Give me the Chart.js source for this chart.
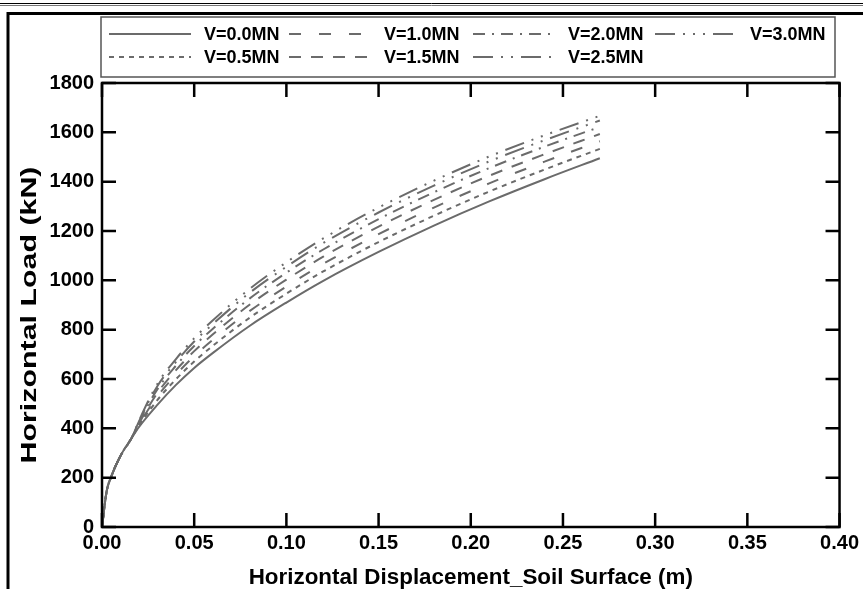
<!DOCTYPE html>
<html>
<head>
<meta charset="utf-8">
<script src="https://cdn.jsdelivr.net/npm/chart.js@4.4.1/dist/chart.umd.min.js"></script>
<style>
  html, body { margin: 0; padding: 0; background: #fff; }
  #wrap { width: 863px; height: 589px; position: relative; }
</style>
</head>
<body>
<div id="wrap"><canvas id="loadChart"></canvas></div>
<script>
// horizontal displacement at soil surface (m)
const disp = [0, 0.0025, 0.005, 0.01, 0.016, 0.02, 0.03, 0.04, 0.05, 0.06, 0.08, 0.10, 0.12, 0.15, 0.18, 0.21, 0.24, 0.27];

// horizontal load (kN) for each vertical load
const v00 = [0, 144, 204, 288, 360, 405, 495, 575, 645, 705, 815, 910, 998, 1115, 1222, 1320, 1410, 1495];
const v05 = [0, 144, 204, 288, 360, 411, 514, 598, 671, 734, 848, 946, 1036, 1155, 1262, 1360, 1449, 1533];
const v10 = [0, 144, 204, 288, 360, 415, 529, 617, 693, 758, 875, 975, 1067, 1187, 1295, 1393, 1481, 1564];
const v15 = [0, 144, 204, 288, 360, 419, 543, 635, 713, 780, 901, 1003, 1096, 1218, 1326, 1424, 1511, 1593];
const v20 = [0, 144, 204, 288, 360, 424, 558, 653, 734, 803, 926, 1031, 1125, 1248, 1357, 1455, 1542, 1622];
const v25 = [0, 144, 204, 288, 360, 427, 571, 668, 752, 822, 949, 1055, 1151, 1275, 1384, 1482, 1568, 1648];
const v30 = [0, 144, 204, 288, 360, 430, 580, 680, 765, 837, 965, 1073, 1170, 1295, 1404, 1502, 1588, 1667];

const seriesLabels = ['V=0.0MN', 'V=0.5MN', 'V=1.0MN', 'V=1.5MN', 'V=2.0MN', 'V=2.5MN', 'V=3.0MN'];
const seriesValues = [v00, v05, v10, v15, v20, v25, v30];
const dashes = [[], [5, 5], [12, 18], [12, 10], [12, 7, 2, 7], [20, 8, 2, 8, 2, 8], [20, 8, 2, 8, 2, 8, 2, 8]];

const xTicks = [0, 0.05, 0.1, 0.15, 0.2, 0.25, 0.3, 0.35, 0.4];
const yTicks = [0, 200, 400, 600, 800, 1000, 1200, 1400, 1600, 1800];

const lineColor = '#6b6b6b';
const FONT = '"Liberation Sans", Arial, sans-serif';

const datasets = seriesValues.map((vals, i) => ({
    label: seriesLabels[i],
    data: vals.map((v, j) => ({ x: disp[j], y: v })),
    borderColor: lineColor,
    borderWidth: 2,
    borderDash: dashes[i],
    pointRadius: 0,
    cubicInterpolationMode: 'monotone',
    fill: false
}));

// frame, inward ticks on all four sides, legend box, y title
const framePlugin = {
    id: 'framePlugin',
    beforeDraw(chart) {
        const ctx = chart.ctx;
        ctx.save();
        ctx.strokeStyle = '#000';
        ctx.lineWidth = 1;
        ctx.beginPath(); ctx.moveTo(0, 3.5); ctx.lineTo(863, 3.5); ctx.stroke();
        ctx.strokeStyle = '#777';
        ctx.beginPath(); ctx.moveTo(0, 5.5); ctx.lineTo(863, 5.5); ctx.stroke();
        ctx.strokeStyle = '#000';
        ctx.lineWidth = 3;
        ctx.beginPath(); ctx.moveTo(8, 589); ctx.lineTo(8, 13.5); ctx.lineTo(863, 13.5); ctx.stroke();

        // y axis title, stretched along its length like the original
        const a = chart.chartArea;
        ctx.translate(30, (a.top + a.bottom) / 2 + 10);
        ctx.rotate(-Math.PI / 2);
        ctx.scale(1.38, 1);
        ctx.font = 'bold 22px ' + FONT;
        ctx.fillStyle = '#000';
        ctx.textAlign = 'center';
        ctx.textBaseline = 'middle';
        ctx.fillText('Horizontal Load (kN)', 0, 0);
        ctx.restore();
    },
    afterDatasetsDraw(chart) {
        const ctx = chart.ctx;
        const a = chart.chartArea;
        const xs = chart.scales.x, ys = chart.scales.y;
        ctx.save();
        ctx.strokeStyle = '#000';
        ctx.lineWidth = 2.5;
        ctx.strokeRect(a.left, a.top, a.right - a.left, a.bottom - a.top);
        const tl = 14;
        ctx.beginPath();
        xTicks.forEach(t => {
            const px = xs.getPixelForValue(t);
            ctx.moveTo(px, a.bottom); ctx.lineTo(px, a.bottom - tl);
            ctx.moveTo(px, a.top); ctx.lineTo(px, a.top + tl);
        });
        yTicks.forEach(t => {
            const py = ys.getPixelForValue(t);
            ctx.moveTo(a.left, py); ctx.lineTo(a.left + tl, py);
            ctx.moveTo(a.right, py); ctx.lineTo(a.right - tl, py);
        });
        ctx.stroke();

        // legend
        ctx.strokeStyle = '#555';
        ctx.lineWidth = 1.5;
        ctx.strokeRect(101, 17, 734, 60);
        const colX = [109, 289, 473, 655];
        const rowY = [34, 57];
        ctx.font = 'bold 18px ' + FONT;
        ctx.textBaseline = 'middle';
        ctx.fillStyle = '#000';
        chart.data.datasets.forEach((ds, i) => {
            const cx = colX[Math.floor(i / 2)], cy = rowY[i % 2];
            ctx.strokeStyle = lineColor;
            ctx.lineWidth = 2;
            ctx.setLineDash(ds.borderDash);
            ctx.beginPath(); ctx.moveTo(cx, cy); ctx.lineTo(cx + 82, cy); ctx.stroke();
            ctx.setLineDash([]);
            ctx.fillText(ds.label, cx + 95, cy + 1);
        });
        ctx.restore();
    }
};

new Chart(document.getElementById('loadChart'), {
    type: 'line',
    data: { datasets: datasets },
    plugins: [framePlugin],
    options: {
        responsive: true,
        maintainAspectRatio: false,
        animation: false,
        layout: { padding: { left: 0, top: 83, right: 21, bottom: 0 } },
        plugins: { legend: { display: false }, tooltip: { enabled: false } },
        scales: {
            x: {
                type: 'linear', min: 0, max: 0.4,
                afterFit: s => { s.height = 62; },
                afterBuildTicks: s => { s.ticks = xTicks.map(v => ({ value: v })); },
                grid: { display: false, drawTicks: false },
                border: { display: false },
                ticks: { padding: 4, color: '#000', font: { family: FONT, size: 20, weight: 'bold' },
                         callback: v => v.toFixed(2) },
                title: { display: true, text: 'Horizontal Displacement_Soil Surface (m)', color: '#000',
                         font: { family: FONT, size: 22.4, weight: 'bold' }, padding: { top: 0, bottom: -2 } }
            },
            y: {
                min: 0, max: 1800,
                afterFit: s => { s.width = 102; },
                afterBuildTicks: s => { s.ticks = yTicks.map(v => ({ value: v })); },
                grid: { display: false, drawTicks: false },
                border: { display: false },
                ticks: { padding: 8, color: '#000', font: { family: FONT, size: 20, weight: 'bold' },
                         callback: v => String(v) },
                title: { display: false }
            }
        }
    }
});
</script>
</body>
</html>
